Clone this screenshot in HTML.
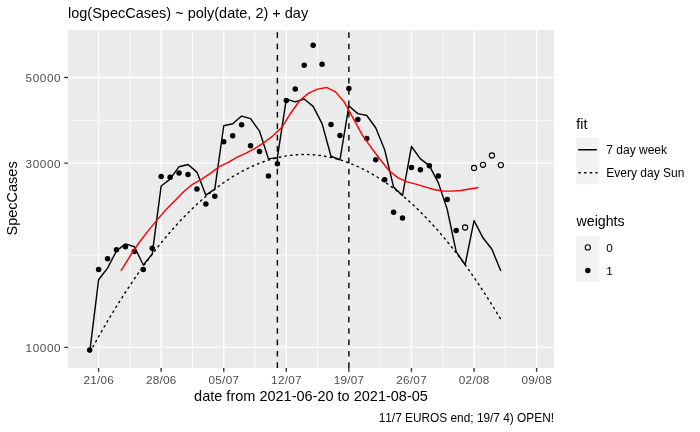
<!DOCTYPE html><html><head><meta charset="utf-8"><title>plot</title><style>html,body{margin:0;padding:0;background:#fff;overflow:hidden}svg{display:block;will-change:transform}text{font-family:"Liberation Sans",Arial,Helvetica,sans-serif;font-variant-ligatures:none;font-kerning:none}</style></head><body>
<svg width="700" height="432" viewBox="0 0 700 432">
<rect x="0" y="0" width="700" height="432" fill="#fff"/>
<rect x="68" y="30" width="486" height="338" fill="#EBEBEB"/>
<defs><clipPath id="pc"><rect x="68" y="30" width="486" height="338"/></clipPath></defs>
<path d="M129.89 30V368M192.46 30V368M255.03 30V368M317.6 30V368M380.18 30V368M442.75 30V368M505.32 30V368M68 255.27H554M68 120.3H554" stroke="#fff" stroke-width="0.71" fill="none"/>
<path d="M98.6 30V368M161.17 30V368M223.75 30V368M286.32 30V368M348.89 30V368M411.46 30V368M474.04 30V368M536.61 30V368M68 77.45H554M68 163.14H554M68 347.4H554" stroke="#fff" stroke-width="1.42" fill="none"/>
<g clip-path="url(#pc)">
<circle cx="89.66" cy="350.1" r="2.75" fill="#000"/>
<circle cx="98.6" cy="269.4" r="2.75" fill="#000"/>
<circle cx="107.54" cy="258.7" r="2.75" fill="#000"/>
<circle cx="116.48" cy="249.8" r="2.75" fill="#000"/>
<circle cx="125.42" cy="246.8" r="2.75" fill="#000"/>
<circle cx="134.35" cy="251.6" r="2.75" fill="#000"/>
<circle cx="143.29" cy="269.4" r="2.75" fill="#000"/>
<circle cx="152.23" cy="248.2" r="2.75" fill="#000"/>
<circle cx="161.17" cy="176.5" r="2.75" fill="#000"/>
<circle cx="170.11" cy="177.2" r="2.75" fill="#000"/>
<circle cx="179.05" cy="172.9" r="2.75" fill="#000"/>
<circle cx="187.99" cy="174.5" r="2.75" fill="#000"/>
<circle cx="196.93" cy="188.9" r="2.75" fill="#000"/>
<circle cx="205.87" cy="203.9" r="2.75" fill="#000"/>
<circle cx="214.81" cy="196.3" r="2.75" fill="#000"/>
<circle cx="223.75" cy="141.7" r="2.75" fill="#000"/>
<circle cx="232.68" cy="135.7" r="2.75" fill="#000"/>
<circle cx="241.62" cy="124.8" r="2.75" fill="#000"/>
<circle cx="250.56" cy="145.7" r="2.75" fill="#000"/>
<circle cx="259.5" cy="151.6" r="2.75" fill="#000"/>
<circle cx="268.44" cy="175.9" r="2.75" fill="#000"/>
<circle cx="277.38" cy="163.7" r="2.75" fill="#000"/>
<circle cx="286.32" cy="100.4" r="2.75" fill="#000"/>
<circle cx="295.26" cy="88.9" r="2.75" fill="#000"/>
<circle cx="304.2" cy="65.2" r="2.75" fill="#000"/>
<circle cx="313.13" cy="45.2" r="2.75" fill="#000"/>
<circle cx="322.07" cy="64.2" r="2.75" fill="#000"/>
<circle cx="331.01" cy="124.5" r="2.75" fill="#000"/>
<circle cx="339.95" cy="135.6" r="2.75" fill="#000"/>
<circle cx="348.89" cy="88.6" r="2.75" fill="#000"/>
<circle cx="357.83" cy="119.6" r="2.75" fill="#000"/>
<circle cx="366.77" cy="138.4" r="2.75" fill="#000"/>
<circle cx="375.71" cy="159.7" r="2.75" fill="#000"/>
<circle cx="384.65" cy="179.8" r="2.75" fill="#000"/>
<circle cx="393.59" cy="212.3" r="2.75" fill="#000"/>
<circle cx="402.52" cy="217.9" r="2.75" fill="#000"/>
<circle cx="411.46" cy="167.6" r="2.75" fill="#000"/>
<circle cx="420.4" cy="169.7" r="2.75" fill="#000"/>
<circle cx="429.34" cy="165.8" r="2.75" fill="#000"/>
<circle cx="438.28" cy="175.9" r="2.75" fill="#000"/>
<circle cx="447.22" cy="199.4" r="2.75" fill="#000"/>
<circle cx="456.16" cy="230.5" r="2.75" fill="#000"/>
<circle cx="465.1" cy="227.5" r="2.6" fill="none" stroke="#000" stroke-width="1.1"/>
<circle cx="474.04" cy="168" r="2.6" fill="none" stroke="#000" stroke-width="1.1"/>
<circle cx="482.98" cy="164.8" r="2.6" fill="none" stroke="#000" stroke-width="1.1"/>
<circle cx="491.91" cy="155.5" r="2.6" fill="none" stroke="#000" stroke-width="1.1"/>
<circle cx="500.85" cy="165.1" r="2.6" fill="none" stroke="#000" stroke-width="1.1"/>
<path d="M89.66 352.71 L98.6 279.75 L107.54 268.19 L116.48 250.92 L125.42 243.9 L134.35 246.72 L143.29 264.96 L152.23 254.11 L161.17 185.95 L170.11 179.19 L179.05 166.71 L187.99 164.49 L196.93 172.1 L205.87 195.14 L214.81 189.08 L223.75 125.73 L232.68 123.76 L241.62 116.08 L250.56 118.65 L259.5 131.06 L268.44 158.9 L277.38 157.64 L286.32 99.08 L295.26 101.9 L304.2 99.02 L313.13 106.39 L322.07 123.6 L331.01 156.23 L339.95 159.77 L348.89 106 L357.83 113.63 L366.77 115.54 L375.71 127.71 L384.65 149.71 L393.59 187.14 L402.52 195.47 L411.46 146.51 L420.4 158.93 L429.34 165.63 L438.28 182.6 L447.22 209.4 L456.16 251.63 L465.1 264.76 L474.04 220.58 L482.98 237.8 L491.91 249.31 L500.85 271.07" stroke="#000" stroke-width="1.42" fill="none" stroke-linejoin="round"/>
<path d="M89.66 352.71 L98.6 336.56 L107.54 321.11 L116.48 306.34 L125.42 292.25 L134.35 278.85 L143.29 266.14 L152.23 254.11 L161.17 242.76 L170.11 232.1 L179.05 222.13 L187.99 212.84 L196.93 204.24 L205.87 196.32 L214.81 189.08 L223.75 182.54 L232.68 176.67 L241.62 171.5 L250.56 167 L259.5 163.2 L268.44 160.07 L277.38 157.64 L286.32 155.89 L295.26 154.82 L304.2 154.44 L313.13 154.74 L322.07 155.73 L331.01 157.41 L339.95 159.77 L348.89 162.81 L357.83 166.54 L366.77 170.96 L375.71 176.06 L384.65 181.85 L393.59 188.32 L402.52 195.47 L411.46 203.32 L420.4 211.84 L429.34 221.06 L438.28 230.95 L447.22 241.54 L456.16 252.8 L465.1 264.76 L474.04 277.39 L482.98 290.72 L491.91 304.73 L500.85 319.42" stroke="#000" stroke-width="1.4226" fill="none" stroke-dasharray="1.4226 4.2679" stroke-dashoffset="-1.09" stroke-linecap="round"/>
<path d="M120.95 270.83 L129.89 256.27 L138.82 243 L147.76 231.36 L156.7 220.37 L165.64 210.04 L174.58 201.09 L183.52 191.73 L192.46 184.31 L201.4 179.34 L210.34 173.41 L219.28 166.54 L228.21 162.43 L237.15 157.1 L246.09 153.1 L255.03 148.44 L263.97 142.54 L272.91 135.86 L281.85 127.34 L290.79 112.99 L299.73 100.5 L308.67 93.16 L317.6 89.14 L326.54 87.46 L335.48 91.84 L344.42 102.3 L353.36 118.66 L362.3 135.17 L371.24 147.71 L380.18 159.47 L389.12 170.76 L398.06 177.91 L406.99 181.83 L415.93 184.14 L424.87 186.94 L433.81 189.54 L442.75 190.97 L451.69 191.09 L460.63 190.44 L469.57 189.03 L478.51 187.54" stroke="#FF0000" stroke-width="1.42" fill="none" stroke-linejoin="round"/>
<path d="M277.38 368V30" stroke="#000" stroke-width="1.42" stroke-dasharray="5.6905 5.6905"/>
<path d="M348.89 368V30" stroke="#000" stroke-width="1.42" stroke-dasharray="5.6905 5.6905"/>
</g>
<path d="M64.33 77.45H68M64.33 163.14H68M64.33 347.4H68M98.6 368V371.67M161.17 368V371.67M223.75 368V371.67M286.32 368V371.67M348.89 368V371.67M411.46 368V371.67M474.04 368V371.67M536.61 368V371.67" stroke="#333333" stroke-width="1.42" fill="none"/>
<text x="60.6" y="82.25" font-size="11.73" fill="#4D4D4D" text-anchor="end" textLength="35.0" lengthAdjust="spacing">50000</text>
<text x="60.6" y="167.94" font-size="11.73" fill="#4D4D4D" text-anchor="end" textLength="35.0" lengthAdjust="spacing">30000</text>
<text x="60.6" y="352.2" font-size="11.73" fill="#4D4D4D" text-anchor="end" textLength="35.0" lengthAdjust="spacing">10000</text>
<text x="98.6" y="384.2" font-size="11.73" fill="#4D4D4D" text-anchor="middle" textLength="30.4" lengthAdjust="spacing">21/06</text>
<text x="161.17" y="384.2" font-size="11.73" fill="#4D4D4D" text-anchor="middle" textLength="30.4" lengthAdjust="spacing">28/06</text>
<text x="223.75" y="384.2" font-size="11.73" fill="#4D4D4D" text-anchor="middle" textLength="30.4" lengthAdjust="spacing">05/07</text>
<text x="286.32" y="384.2" font-size="11.73" fill="#4D4D4D" text-anchor="middle" textLength="30.4" lengthAdjust="spacing">12/07</text>
<text x="348.89" y="384.2" font-size="11.73" fill="#4D4D4D" text-anchor="middle" textLength="30.4" lengthAdjust="spacing">19/07</text>
<text x="411.46" y="384.2" font-size="11.73" fill="#4D4D4D" text-anchor="middle" textLength="30.4" lengthAdjust="spacing">26/07</text>
<text x="474.04" y="384.2" font-size="11.73" fill="#4D4D4D" text-anchor="middle" textLength="30.4" lengthAdjust="spacing">02/08</text>
<text x="536.61" y="384.2" font-size="11.73" fill="#4D4D4D" text-anchor="middle" textLength="30.4" lengthAdjust="spacing">09/08</text>
<text x="68" y="18" font-size="14.5" fill="#000">log(SpecCases) ~ poly(date, 2) + day</text>
<text x="311" y="400.6" font-size="14.5" fill="#000" text-anchor="middle">date from 2021-06-20 to 2021-08-05</text>
<text transform="translate(16.6 198.4) rotate(-90)" x="0" y="0" font-size="14.5" fill="#000" text-anchor="middle">SpecCases</text>
<text x="554" y="421.7" font-size="11.86" fill="#000" text-anchor="end">11/7 EUROS end; 19/7 4) OPEN!</text>
<text x="576.3" y="129.3" font-size="14.2" fill="#000">fit</text>
<rect x="576.3" y="138.2" width="23" height="46" fill="#F2F2F2"/>
<path d="M578.7 149.7H596.3" stroke="#000" stroke-width="1.4226" stroke-linecap="round"/>
<path d="M578.6 172.7H597" stroke="#000" stroke-width="1.4226" stroke-dasharray="1.4226 4.2679" stroke-dashoffset="-0.29" stroke-linecap="round"/>
<text x="606.3" y="153.6" font-size="12" fill="#000">7 day week</text>
<text x="606.3" y="176.6" font-size="12" fill="#000">Every day Sun</text>
<text x="576.5" y="225.6" font-size="14.2" fill="#000">weights</text>
<rect x="576.3" y="236" width="23" height="46" fill="#F2F2F2"/>
<circle cx="587.8" cy="247.4" r="2.6" fill="none" stroke="#000" stroke-width="1.1"/>
<circle cx="587.8" cy="270.5" r="2.75" fill="#000"/>
<text x="606.3" y="251.8" font-size="11.73" fill="#000">0</text>
<text x="606.3" y="274.8" font-size="11.73" fill="#000">1</text>
</svg></body></html>
